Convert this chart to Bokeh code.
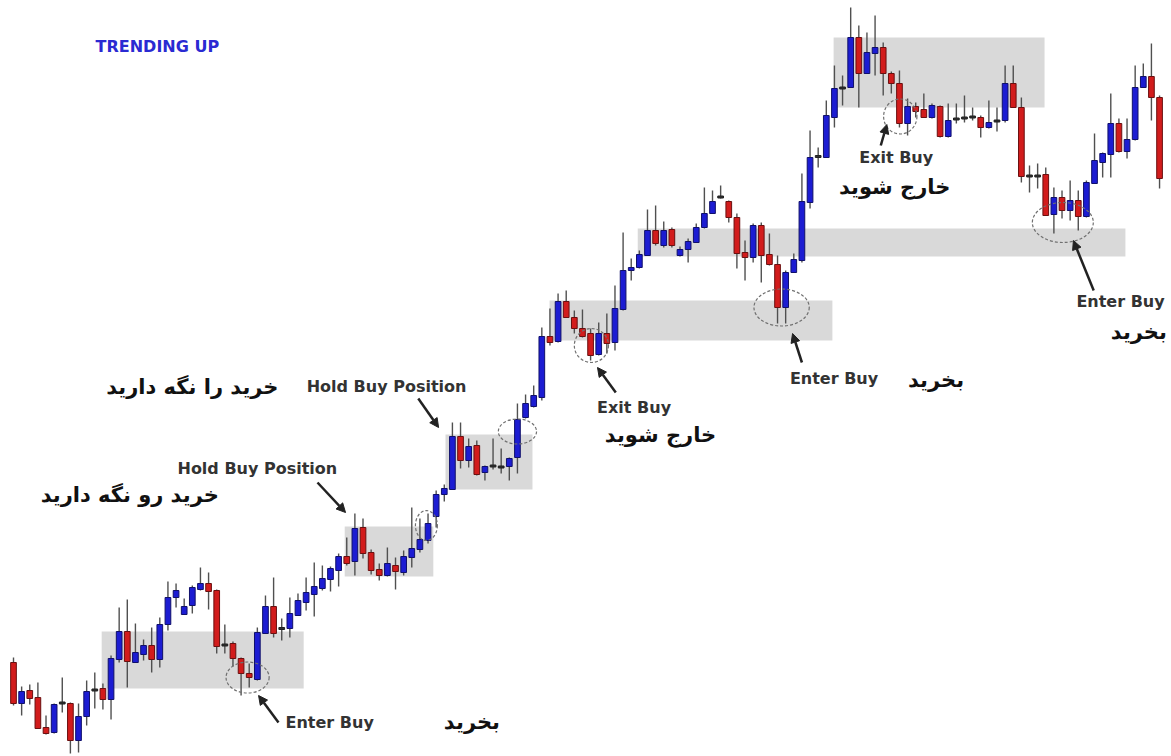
from bokeh.plotting import figure
from bokeh.models import Range1d, ColumnDataSource, Arrow, NormalHead
from bokeh.core.properties import value
from bokeh.embed import file_html
from bokeh.resources import INLINE

# ---------------- data (price units) ----------------
opens = [94,53,66,59,29,24,53,53,16,40,
         66,68,57,97,125,94,102,111,97,132,
         159,142,151,167,173,166,111,113,98,83,
         77,123,150,127,128,141,154,162,168,177,
         186,200,195,229,204,187,181,191,184,199,
         207,216,240,262,267,320,296,311,284,290,
         289,290,299,339,350,359,420,415,455,439,
         428,423,402,423,414,447,486,489,501,526,
         511,527,501,507,514,529,543,559,555,539,
         504,499,531,502,492,449,484,496,554,599,
         599,639,668,669,719,683,703,709,683,673,
         633,650,647,639,650,620,637,638,639,639,
         629,635,636,673,649,580,580,582,542,559,
         546,556,540,573,594,602,633,605,617,669,
         680,659]
closes = [53,65,58,28,23,52,54,16,40,65,
          67,57,98,125,95,104,111,97,132,159,
          166,150,169,173,165,110,112,98,83,79,
          124,150,123,129,143,156,164,170,178,188,
          200,193,228,203,186,181,193,185,200,208,
          217,233,262,268,320,296,310,282,290,291,
          290,298,337,353,361,420,414,455,439,428,
          420,401,423,413,448,486,489,502,526,513,
          526,511,507,515,529,543,555,560,539,503,
          499,531,501,492,449,484,497,555,599,601,
          641,668,669,719,683,704,709,683,673,633,
          650,645,639,651,620,636,638,639,640,629,
          634,636,673,649,580,581,581,541,559,546,
          556,540,574,596,603,633,605,617,669,680,
          659,578]
highs = [99,70,72,74,41,53,79,54,53,76,
         84,73,101,149,157,133,117,129,139,175,
         173,158,171,189,184,167,132,115,99,93,
         129,161,179,138,159,163,179,194,191,190,
         203,219,243,238,207,193,209,199,206,249,
         238,243,266,272,334,334,318,316,291,318,
         308,299,353,362,371,429,448,463,466,446,
         447,428,434,443,471,524,498,506,547,551,
         535,529,510,518,533,569,566,571,556,543,
         516,533,534,523,501,486,503,583,626,609,
         656,691,681,749,731,724,741,714,685,686,
         658,654,663,653,651,653,653,661,649,641,
         656,649,691,691,659,591,593,589,569,566,
         576,566,576,623,604,663,638,638,691,693,
         713,661]
lows = [51,41,52,28,22,23,44,3,4,31,
        48,47,37,94,69,94,96,84,89,126,
        149,142,143,166,147,103,103,90,61,69,
        76,123,119,116,119,141,146,140,166,165,
        170,191,181,198,182,176,180,167,181,189,
        204,213,229,255,267,288,289,281,276,287,
        283,276,283,338,349,356,411,414,439,423,
        419,396,401,403,406,446,476,488,501,511,
        509,509,500,494,514,528,543,558,534,488,
        476,494,474,491,433,433,484,494,548,589,
        599,629,651,669,649,683,681,661,663,629,
        621,639,639,638,619,619,633,634,636,619,
        628,625,634,649,574,564,568,541,523,538,
        536,526,539,573,579,579,604,598,616,669,
        636,568]

title_text = "TRENDING UP"
labels_en = ["Hold Buy Position", "Hold Buy Position", "Enter Buy", "Exit Buy",
             "Enter Buy", "Exit Buy", "Enter Buy"]
labels_fa = ["خرید رو نگه دارید", "خرید را نگه دارید", "بخرید", "خارج شوید",
             "بخرید", "خارج شوید", "بخرید"]

# ---------------- styles ----------------
UP_FILL, UP_LINE = "#1c1cd2", "#10106a"
DN_FILL, DN_LINE = "#d21c1c", "#6a1010"
DOJI_FILL, DOJI_LINE = "#303030", "#202020"
WICK = "#505050"
ZONE = "#d9d9d9"

n = len(opens)
idx = list(range(n))
tops, bots, fills, lines = [], [], [], []
for o, c in zip(opens, closes):
    t, b = max(o, c), min(o, c)
    if t - b < 2:
        m = (t + b) / 2.0
        t, b = m + 1, m - 1
    tops.append(t)
    bots.append(b)
    if abs(c - o) <= 2:
        fills.append(DOJI_FILL); lines.append(DOJI_LINE)
    elif c > o:
        fills.append(UP_FILL); lines.append(UP_LINE)
    else:
        fills.append(DN_FILL); lines.append(DN_LINE)

src = ColumnDataSource(dict(x=idx, high=highs, low=lows, top=tops, bottom=bots,
                            fill=fills, line=lines))

W, H = 1171, 756
p = figure(width=W, height=H, output_backend="svg", toolbar_location=None,
           x_axis_location=None, y_axis_location=None,
           x_range=Range1d(-1.6, 142.47), y_range=Range1d(0, 756),
           min_border=0, background_fill_color="white", border_fill_color="white")
p.outline_line_color = None
p.grid.visible = False

# support / resistance zones (index units, price units)
zl = [10.85, 40.75, 53.15, 65.95, 76.8, 100.9]
zr = [35.7, 51.65, 63.85, 100.75, 136.8, 126.85]
zb = [68, 180, 267, 416, 500, 649]
zt = [125, 230, 322, 456, 528, 719]
p.quad(left=zl, right=zr, bottom=zb, top=zt, fill_color=ZONE, line_color=None)

# candles
p.segment(x0="x", y0="low", x1="x", y1="high", source=src, line_color=WICK, line_width=1.4)
p.vbar(x="x", width=0.7, top="top", bottom="bottom", source=src,
       fill_color="fill", line_color="line", line_width=1)

# dashed ellipses
ex = [28.8, 50.8, 62.0, 71.1, 94.5, 109.1, 129.1]
ey = [79, 231, 325, 411, 449, 640, 534]
ew = [5.3, 2.7, 4.7, 4.2, 6.8, 4.1, 7.5]
eh = [31, 30, 25, 34, 37, 35, 40]
p.ellipse(x=ex, y=ey, width=ew, height=eh, fill_color=None,
          line_color="#707070", line_dash="3 2", line_width=1.2)

# arrows
arrows = [(32.6, 34, 30.15, 61), (37.4, 274, 40.85, 244), (49.8, 358, 52.3, 329),
          (74.1, 364, 71.85, 389), (97.0, 394, 95.85, 423), (106.7, 611, 107.45, 632),
          (132.9, 466, 130.4, 516)]
for xs, ys, xe, ye in arrows:
    p.add_layout(Arrow(end=NormalHead(size=9, fill_color="#222222", line_color="#222222"),
                       x_start=xs, y_start=ys, x_end=xe, y_end=ye,
                       line_color="#222222", line_width=2.5))

# texts
p.text(x=[17.7], y=[710], text=[title_text], text_align="center", text_baseline="middle",
       text_font=value("DejaVu Sans"), text_font_style="bold",
       text_font_size=value("16px"), text_color="#2a2ad2")

en_x = [30.0, 45.9, 38.9, 76.35, 100.95, 108.6, 136.2]
en_y = [288, 370, 34, 349, 378, 599, 455]
p.text(x=en_x, y=en_y, text=labels_en, text_align="center", text_baseline="middle",
       text_font=value("DejaVu Sans"), text_font_style="bold",
       text_font_size=value("16px"), text_color="#333333")

fa_x = [14.3, 22.0, 56.4, 79.6, 113.5, 108.4, 138.45]
fa_y = [262, 370, 35, 322, 377, 570, 425]
p.text(x=fa_x, y=fa_y, text=labels_fa, text_align="center", text_baseline="middle",
       text_font=value("DejaVu Sans"), text_font_style="bold",
       text_font_size=value("21px"), text_color="#111111")

open("out.html", "w").write(file_html(p, INLINE))
